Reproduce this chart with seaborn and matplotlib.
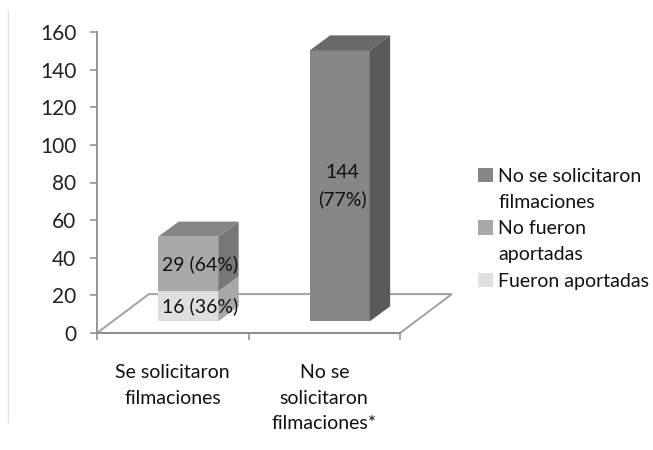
"""
plot.py - barras apiladas con aspecto 3D, filmaciones solicitadas / aportadas
"""
import pandas as pd
import matplotlib
matplotlib.use('Agg')
import matplotlib.pyplot as plt
from matplotlib.lines import Line2D
from matplotlib.patches import Patch, Polygon
import seaborn as sns

CATEGORIAS = ["Se solicitaron\nfilmaciones", "No se\nsolicitaron\nfilmaciones*"]
FUERON_APORTADAS = [16, 0]
NO_FUERON_APORTADAS = [29, 0]
NO_SOLICITARON = [0, 144]

SERIES = ["Fueron aportadas", "No fueron aportadas", "No se solicitaron filmaciones"]
VALORES = [FUERON_APORTADAS, NO_FUERON_APORTADAS, NO_SOLICITARON]
ETIQUETAS = [["16 (36%)", ""], ["29 (64%)", ""], ["", "144\n(77%)"]]
Y_TICKS = list(range(0, 161, 20))

# frente, tapa, lateral
COLORES = {
    "Fueron aportadas":              ("#dfdfdf", "#c4c4c4", "#a8a8a8"),
    "No fueron aportadas":           ("#a9a9a9", "#858585", "#787878"),
    "No se solicitaron filmaciones": ("#878787", "#696969", "#5a5a5a"),
}
GRIS_EJE = "#8c8c8c"
TEXTO = "#111111"

# perspectiva, en unidades de datos
FONDO_X, FONDO_Y = 0.343, 20.7
PROF_X, PROF_Y = 0.135, 8.0
DESPL_X, DESPL_Y = 0.102, 6.2
ANCHO = 0.396
AJUSTE_ETIQUETA = [0.08, 0.02]

sns.set_theme(style="white")
plt.rcParams['font.family'] = ['Lato', 'DejaVu Sans']

fig = plt.figure(figsize=(6.53, 4.5), dpi=100)
ax = fig.add_axes([97 / 653, 1 - 333 / 450, 303 / 653, 301 / 450])

# suelo en perspectiva
x0, x1 = -0.5, 1.5
ax.add_patch(Polygon([(x0, 0), (x0 + FONDO_X, FONDO_Y), (x1 + FONDO_X, FONDO_Y), (x1, 0)],
                     closed=True, facecolor="white", edgecolor="#a6a6a6", lw=1.5,
                     clip_on=False, zorder=1))

base = [DESPL_Y, DESPL_Y]
for serie, valores, etiquetas in zip(SERIES, VALORES, ETIQUETAS):
    frente, tapa, lateral = COLORES[serie]
    df = pd.DataFrame({"categoria": CATEGORIAS, "valor": valores})
    n_antes = len(ax.patches)
    sns.barplot(data=df, x="categoria", y="valor", color=frente, saturation=1,
                width=ANCHO, bottom=base, ax=ax, zorder=2, clip_on=False, linewidth=0)
    for i, barra in enumerate(ax.patches[n_antes:]):
        if valores[i] == 0:
            barra.set_visible(False)
            continue
        barra.set_x(barra.get_x() + DESPL_X)
        barra.set_clip_on(False)
        izq, der = barra.get_x(), barra.get_x() + barra.get_width()
        abajo, arriba = base[i], base[i] + valores[i]
        ax.add_patch(Polygon([(der, abajo), (der + PROF_X, abajo + PROF_Y),
                              (der + PROF_X, arriba + PROF_Y), (der, arriba)],
                             closed=True, color=lateral, lw=0, clip_on=False, zorder=2))
        ax.add_patch(Polygon([(izq, arriba), (izq + PROF_X, arriba + PROF_Y),
                              (der + PROF_X, arriba + PROF_Y), (der, arriba)],
                             closed=True, color=tapa, lw=0, clip_on=False, zorder=2))
        ax.text((izq + der) / 2 + AJUSTE_ETIQUETA[i], (abajo + arriba) / 2, etiquetas[i],
                ha="center", va="center", fontsize=14, color=TEXTO,
                linespacing=1.6, zorder=5)
    base = [b + v for b, v in zip(base, valores)]

ax.set_xlim(x0, x1)
ax.set_ylim(0, 160)
ax.set_yticks(Y_TICKS)
ax.set_xlabel("")
ax.set_ylabel("")
ax.set_xticks([-0.5, 0.5, 1.5])
ax.set_xticklabels([])
for i, cat in enumerate(CATEGORIAS):
    ax.annotate(cat, xy=(i, 0), xycoords=("data", "axes fraction"),
                xytext=(0, -22.5), textcoords="offset points", ha="center", va="top",
                fontsize=14, color=TEXTO, linespacing=1.6)
ax.tick_params(axis="y", length=5, width=1.1, color=GRIS_EJE, labelsize=15,
               labelcolor="#222222", pad=10, left=True)
ax.tick_params(axis="x", length=5, width=1.1, color=GRIS_EJE, bottom=True)
sns.despine(ax=ax)
for lado in ["left", "bottom"]:
    ax.spines[lado].set_color(GRIS_EJE)
    ax.spines[lado].set_linewidth(1.3)
    ax.spines[lado].set_zorder(3)

# leyenda: una fila por línea de texto, la muestra solo en la primera
FILAS_LEYENDA = [("No se solicitaron", SERIES[2]), ("filmaciones", None),
                 ("No fueron", SERIES[1]), ("aportadas", None),
                 ("Fueron aportadas", SERIES[0])]
manejadores = [Patch(facecolor=COLORES[s][0] if s else "none", edgecolor="none")
               for _, s in FILAS_LEYENDA]
ley = fig.legend(manejadores, [t for t, _ in FILAS_LEYENDA], loc="upper left",
                 bbox_to_anchor=(478 / 653, 1 - 168 / 450), frameon=False,
                 fontsize=14, handlelength=0.75, handleheight=0.75, handletextpad=0.3,
                 labelspacing=0.47, borderpad=0, borderaxespad=0)
for t in ley.get_texts():
    t.set_color(TEXTO)

# borde claro a la izquierda del gráfico
fig.add_artist(Line2D([8 / 653, 8 / 653], [1 - 10 / 450, 1 - 422 / 450], color="#e2e2e2", lw=0.9))

fig.savefig("out.png", dpi=100)
plt.close()
